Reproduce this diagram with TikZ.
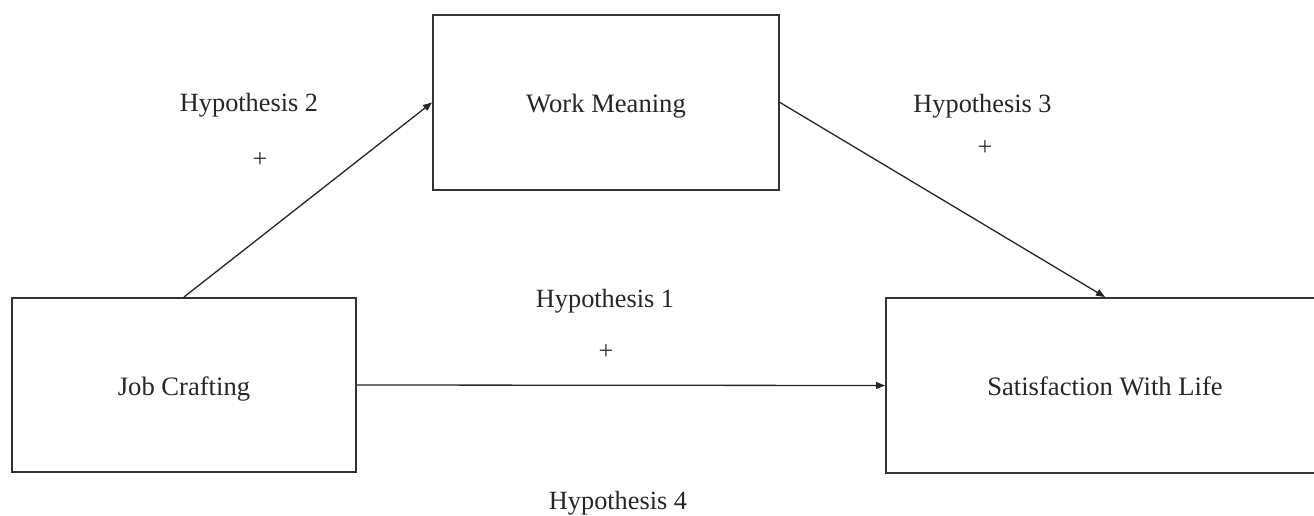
\documentclass[tikz,border=0pt]{standalone}
\usepackage{fontspec}
\setmainfont{Liberation Serif}
\usetikzlibrary{arrows.meta}
\begin{document}
\begin{tikzpicture}[x=1pt,y=-1pt,
  box/.style={draw=black!80,line width=2pt,inner sep=0pt,font=\fontsize{26.6}{30}\selectfont,text=black!85,text height=25pt,text depth=5pt},
  lbl/.style={font=\fontsize{26.3}{30}\selectfont,inner sep=0pt,text=black!85,anchor=base},
  plus/.style={font=\fontsize{26.3}{30}\selectfont,inner sep=0pt,text=black!80},
  conn/.style={draw=black!85,line width=1.3pt,-{Triangle[length=9pt,width=7pt]}}]
\useasboundingbox (0,0) rectangle (1314,516);
\fill[white] (0,0) rectangle (1314,516);
\node[box,minimum width=346pt,minimum height=175pt] (wm) at (606,102.5) {Work Meaning};
\node[box,minimum width=344pt,minimum height=174pt] (jc) at (184,385) {Job Crafting};
\node[box,minimum width=438pt,minimum height=175pt] (sat) at (1105,385.5) {Satisfaction With Life};
\draw[conn] (jc.north) -- (wm.west);
\draw[conn] (wm.east) -- (sat.north);
\draw[conn] (jc.east) -- (sat.west);
\node[lbl] (h2) at (249,112) {Hypothesis 2};
\node[plus] (p2) at (260,160) {+};
\node[lbl] (h3) at (982.5,113) {Hypothesis 3};
\node[plus] (p3) at (985,148) {+};
\node[lbl] (h1) at (605,307) {Hypothesis 1};
\node[plus] (p1) at (606,352) {+};
\node[lbl] (h4) at (618,509.5) {Hypothesis 4};
\end{tikzpicture}
\end{document}
